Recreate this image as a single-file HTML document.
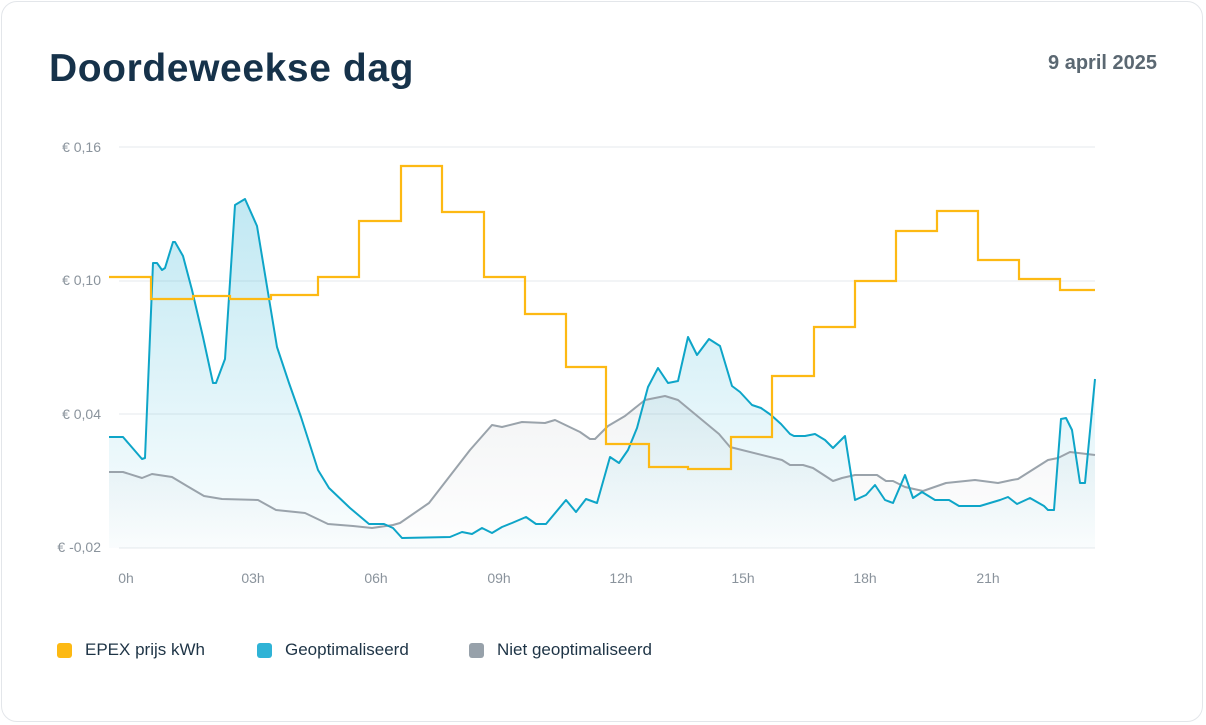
<!DOCTYPE html>
<html><head><meta charset="utf-8"><style>
html,body{margin:0;padding:0;background:#fff;width:1206px;height:725px;overflow:hidden;font-family:"Liberation Sans",sans-serif}
.card{position:absolute;left:1px;top:1px;width:1202px;height:721px;border:1.5px solid #e3e6ea;border-radius:16px;box-sizing:border-box}
.title{position:absolute;left:49px;top:47px;font-size:39px;font-weight:bold;color:#16324a;letter-spacing:0.6px}
.date{position:absolute;right:49px;top:52px;font-size:20px;font-weight:bold;color:#5b6872}
.leg{position:absolute;top:640px;font-size:17px;color:#1e3446;display:flex;align-items:center}
.leg i{display:inline-block;width:15px;height:15px;border-radius:3px;margin-right:13px}
</style></head><body>
<div class="card"></div>
<div class="title">Doordeweekse dag</div>
<div class="date">9 april 2025</div>
<svg width="1206" height="725" style="position:absolute;left:0;top:0">
<defs>
<linearGradient id="gb" x1="0" y1="0" x2="0" y2="1" gradientUnits="objectBoundingBox"><stop offset="0" stop-color="#2fb3d6" stop-opacity="0.3"/><stop offset="1" stop-color="#2fb3d6" stop-opacity="0.02"/></linearGradient>
<linearGradient id="gg" x1="0" y1="0" x2="0" y2="1"><stop offset="0" stop-color="#9aa3ab" stop-opacity="0.12"/><stop offset="1" stop-color="#9aa3ab" stop-opacity="0.01"/></linearGradient>
</defs>
<g stroke="#ebedf0" stroke-width="1.3">
<line x1="119" y1="147" x2="1095" y2="147"/><line x1="119" y1="281" x2="1095" y2="281"/><line x1="119" y1="414" x2="1095" y2="414"/><line x1="119" y1="548" x2="1095" y2="548"/>
</g>
<g font-size="14" fill="#8a939c" text-anchor="end">
<text x="101" y="152">€ 0,16</text><text x="101" y="285">€ 0,10</text><text x="101" y="419">€ 0,04</text><text x="101" y="552">€ -0,02</text>
</g>
<g font-size="14" fill="#8a939c" text-anchor="middle">
<text x="126" y="583">0h</text><text x="253" y="583">03h</text><text x="376" y="583">06h</text><text x="499" y="583">09h</text><text x="621" y="583">12h</text><text x="743" y="583">15h</text><text x="865" y="583">18h</text><text x="988" y="583">21h</text>
</g>
<polygon fill="url(#gg)" points="109,548 109,472 123,472 142,478 152,474 172,477 187,486 204,496 222,499 258,500 276,510 305,513 328,524 353,526 372,528 393,525 400,523 429,503 470,450 492,425 502,427 522,422 545,423 555,420 580,432 590,439 595,439 608,426 625,416 645,400 665,396 678,400 719,434 730,447 782,460 790,465 803,465 813,468 833,481 842,478 855,475 877,475 886,481 893,481 905,487 923,491 946,483 975,480 998,483 1012,480 1018,479 1048,460 1058,458 1070,452 1095,455 1095,548"/>
<polygon fill="url(#gb)" points="109,548 109,437 123,437 142,459 145,458 153,263 157,263 162,270 165,268 173,242 175,242 183,256 192,290 203,337 213,383 216,383 225,359 235,205 245,199 257,226 277,347 289,383 301,417 318,470 329,488 350,508 369,524 384,524 393,528 402,538 450,537 462,532 472,534 482,528 492,533 502,527 512,523 526,517 536,524 546,524 566,500 576,512 586,499 597,503 610,457 619,463 628,450 637,428 648,387 658,368 668,383 678,381 688,337 697,355 709,339 720,346 732,386 740,392 752,405 761,408 771,415 781,424 790,434 794,436 805,436 815,434 825,440 833,448 845,436 855,500 866,495 875,485 885,500 893,503 905,475 913,498 922,492 935,500 949,500 959,506 980,506 1000,500 1008,497 1017,504 1030,498 1044,506 1048,510 1054,510 1061,419 1066,418 1072,430 1080,483 1085,483 1095,379 1095,548"/>
<polyline fill="none" stroke="#9aa3ab" stroke-width="2" stroke-linejoin="round" points="109,472 123,472 142,478 152,474 172,477 187,486 204,496 222,499 258,500 276,510 305,513 328,524 353,526 372,528 393,525 400,523 429,503 470,450 492,425 502,427 522,422 545,423 555,420 580,432 590,439 595,439 608,426 625,416 645,400 665,396 678,400 719,434 730,447 782,460 790,465 803,465 813,468 833,481 842,478 855,475 877,475 886,481 893,481 905,487 923,491 946,483 975,480 998,483 1012,480 1018,479 1048,460 1058,458 1070,452 1095,455"/>
<polyline fill="none" stroke="#0ea5c8" stroke-width="2" stroke-linejoin="round" points="109,437 123,437 142,459 145,458 153,263 157,263 162,270 165,268 173,242 175,242 183,256 192,290 203,337 213,383 216,383 225,359 235,205 245,199 257,226 277,347 289,383 301,417 318,470 329,488 350,508 369,524 384,524 393,528 402,538 450,537 462,532 472,534 482,528 492,533 502,527 512,523 526,517 536,524 546,524 566,500 576,512 586,499 597,503 610,457 619,463 628,450 637,428 648,387 658,368 668,383 678,381 688,337 697,355 709,339 720,346 732,386 740,392 752,405 761,408 771,415 781,424 790,434 794,436 805,436 815,434 825,440 833,448 845,436 855,500 866,495 875,485 885,500 893,503 905,475 913,498 922,492 935,500 949,500 959,506 980,506 1000,500 1008,497 1017,504 1030,498 1044,506 1048,510 1054,510 1061,419 1066,418 1072,430 1080,483 1085,483 1095,379"/>
<polyline fill="none" stroke="#fdb913" stroke-width="2.2" points="109,277 151,277 151,299 193,299 193,296 230,296 230,299 271,299 271,295 318,295 318,277 359,277 359,221 401,221 401,166 442,166 442,212 484,212 484,277 525,277 525,314 566,314 566,367 606,367 606,444 649,444 649,467 688,467 688,469 731,469 731,437 772,437 772,376 814,376 814,327 855,327 855,281 896,281 896,231 937,231 937,211 978,211 978,260 1019,260 1019,279 1060,279 1060,290 1095,290"/>
</svg>
<div class="leg" style="left:57px"><i style="background:#fdb913"></i>EPEX prijs kWh</div>
<div class="leg" style="left:257px"><i style="background:#2fb3d6"></i>Geoptimaliseerd</div>
<div class="leg" style="left:469px"><i style="background:#97a1aa"></i>Niet geoptimaliseerd</div>
</body></html>
